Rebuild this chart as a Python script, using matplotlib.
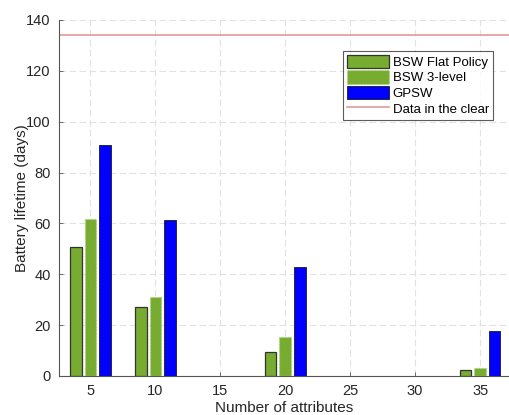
import matplotlib
matplotlib.use("Agg")
import matplotlib.pyplot as plt
import numpy as np

plt.rcParams['font.family'] = ['Liberation Sans', 'DejaVu Sans']

attributes = [5, 10, 20, 35]
bsw_flat = [50.8, 27.0, 9.3, 2.4]
bsw_3level = [61.6, 31.2, 15.2, 3.0]
gpsw = [90.9, 61.5, 43.0, 17.8]
clear_lifetime = 134.2

x_ticks = [5, 10, 15, 20, 25, 30, 35]
y_ticks = [0, 20, 40, 60, 80, 100, 120, 140]

green = '#77AC30'
blue = '#0000FF'

fig = plt.figure(figsize=(5.10, 4.15), dpi=100)
ax = fig.add_axes([0.116, 0.094, 0.884, 0.858])

x = np.array(attributes, dtype=float)
off = 1.12
w = 0.89
h1 = ax.bar(x - off, bsw_flat, width=w, color=green, edgecolor='#333333',
            linewidth=0.9, label='BSW Flat Policy', zorder=3)
h2 = ax.bar(x, bsw_3level, width=w, color=green, edgecolor='#a6d070',
            linewidth=0.9, linestyle=':', label='BSW 3-level', zorder=3)
h3 = ax.bar(x + off, gpsw, width=w, color=blue, edgecolor='#1a1a1a',
            linewidth=0.6, label='GPSW', zorder=3)
h4 = ax.axhline(clear_lifetime, color='#e39a9a', linewidth=1.2,
                label='Data in the clear', zorder=2)

ax.set_xlim(2.6, 37.3)
ax.set_ylim(0, 140)
ax.set_xticks(x_ticks)
ax.set_yticks(y_ticks)
ax.grid(True, linestyle=(0, (6, 3)), color='#e2e2e2', linewidth=0.8, zorder=0)
ax.set_axisbelow(True)

for s in ['top', 'right']:
    ax.spines[s].set_visible(False)
for s in ['left', 'bottom']:
    ax.spines[s].set_color('#555555')
    ax.spines[s].set_linewidth(0.8)

ax.tick_params(direction='in', length=3, width=0.6, color='#555555',
               labelsize=10.5, labelcolor='#262626', pad=6)

ax.set_xlabel('Number of attributes', fontsize=11, color='#262626', labelpad=2)
ax.set_ylabel('Battery lifetime (days)', fontsize=11, color='#262626', labelpad=-2)

leg = ax.legend([h1, h2, h3, h4],
                ['BSW Flat Policy', 'BSW 3-level', 'GPSW', 'Data in the clear'],
                loc='upper right', bbox_to_anchor=(0.962, 0.913), fontsize=9.5,
                frameon=True, fancybox=False, edgecolor='#333333',
                borderpad=0.3, handlelength=3.2, handleheight=1.15,
                handletextpad=0.25, labelspacing=0.12, borderaxespad=0.0)
leg.get_frame().set_linewidth(0.8)

fig.savefig('out.png', dpi=100)
